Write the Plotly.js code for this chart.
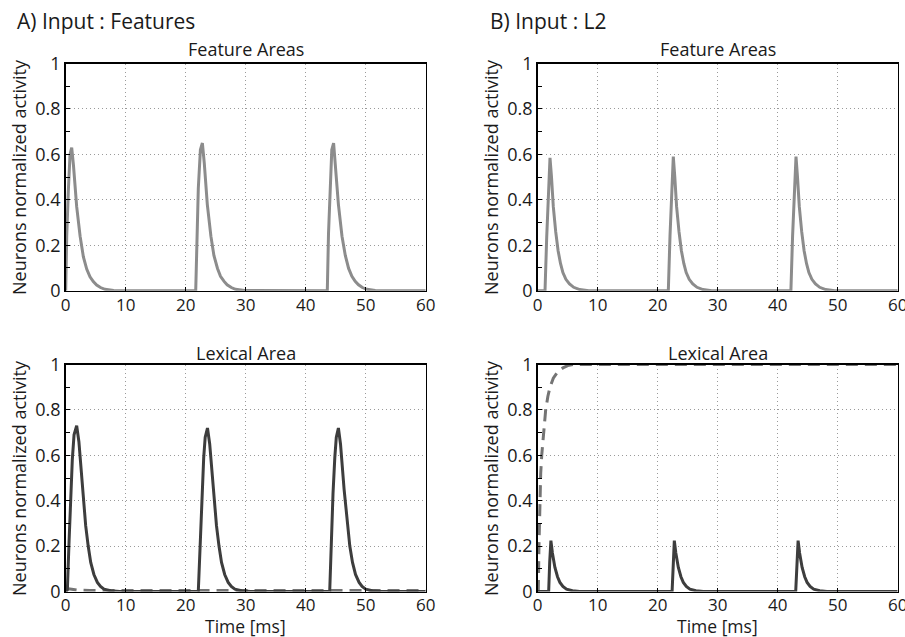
<!DOCTYPE html>
<html>
<head>
<meta charset="utf-8">
<script src="https://cdn.plot.ly/plotly-3.0.1.min.js"></script>
<style>html,body{margin:0;padding:0;background:#fff;}#chart{width:905px;height:637px;}</style>
</head>
<body>
<div id="chart"></div>
<script>
// ---- Data ----
// Panel A, Feature Areas (gray)
const aFeatT = [0,0.17,0.44,0.72,1.0,1.3,1.83,2.4,2.94,3.5,4.05,4.6,5.16,5.8,6.55,8,
  21.67,21.85,22.1,22.45,22.78,23.1,23.6,24.2,24.7,25.3,25.8,26.4,26.9,27.6,28.3,29.8,
  43.6,43.8,44.05,44.35,44.65,44.95,45.45,46.05,46.6,47.15,47.7,48.25,48.8,49.45,50.2,51.6,60];
const aFeatY = [0,0.24,0.44,0.60,0.63,0.55,0.37,0.24,0.15,0.095,0.061,0.04,0.025,0.014,0.006,0.001,
  0,0.25,0.45,0.62,0.65,0.56,0.38,0.24,0.155,0.098,0.063,0.041,0.026,0.014,0.006,0.001,
  0,0.25,0.45,0.62,0.65,0.56,0.38,0.24,0.155,0.098,0.063,0.041,0.026,0.014,0.006,0.001,0];

// Panel A, Lexical Area (dark solid)
const aLexT = [0,0.28,0.56,0.83,1.1,1.39,1.83,2.2,2.78,3.33,3.75,4.17,4.7,5.28,5.8,6.39,7.5,9,
  22.1,22.4,22.7,23.0,23.25,23.63,24.0,24.58,25.13,25.55,25.97,26.5,27.08,27.6,28.2,29.3,30.8,
  44.0,44.25,44.55,44.85,45.1,45.45,45.8,46.4,46.95,47.35,47.8,48.3,48.9,49.4,50.0,51.1,52.6,60];
const aLexY = [0,0.01,0.22,0.42,0.58,0.69,0.73,0.66,0.45,0.29,0.2,0.128,0.075,0.04,0.022,0.01,0.003,0,
  0,0.22,0.43,0.59,0.68,0.72,0.65,0.45,0.29,0.2,0.128,0.075,0.04,0.022,0.01,0.003,0,
  0,0.22,0.43,0.59,0.68,0.72,0.65,0.45,0.29,0.2,0.128,0.075,0.04,0.022,0.01,0.003,0,0];
// Panel A, Lexical Area (gray dashed)
const aLex2T = [0,0.5,1,2,4,60];
const aLex2Y = [0,0.012,0.01,0.006,0.004,0.004];

// Panel B, Feature Areas (gray)
const bFeatT = [0,1.22,1.5,1.78,2.05,2.3,2.6,3.0,3.4,3.8,4.2,4.7,5.3,6.0,7.0,8.5,
  21.77,22.05,22.33,22.6,22.85,23.15,23.55,23.95,24.35,24.75,25.25,25.85,26.55,27.55,29,
  42.2,42.48,42.76,43.05,43.3,43.6,44.0,44.4,44.8,45.2,45.7,46.3,47.0,48.0,49.5,60];
const bFeatY = [0,0,0.235,0.44,0.585,0.5,0.37,0.26,0.176,0.12,0.08,0.05,0.03,0.015,0.005,0,
  0,0.24,0.45,0.59,0.5,0.37,0.26,0.176,0.12,0.08,0.05,0.03,0.015,0.005,0,
  0,0.24,0.45,0.59,0.5,0.37,0.26,0.176,0.12,0.08,0.05,0.03,0.015,0.005,0,0];

// Panel B, Lexical Area (dark solid)
const bLexT = [0,1.83,2.0,2.2,2.45,2.87,3.3,3.7,4.2,4.8,5.8,7,
  22.4,22.57,22.77,23.02,23.44,23.87,24.27,24.77,25.37,26.37,27.6,
  43.0,43.2,43.4,43.65,44.07,44.5,44.9,45.4,46.0,47.0,48.2,60];
const bLexY = [0,0,0.13,0.224,0.17,0.106,0.065,0.04,0.022,0.01,0.003,0,
  0,0.13,0.224,0.17,0.106,0.065,0.04,0.022,0.01,0.003,0,
  0,0.13,0.224,0.17,0.106,0.065,0.04,0.022,0.01,0.003,0,0];
// Panel B, Lexical Area (gray dashed)
const bLex2T = [0,0.1,0.21,0.33,0.5,0.67,1.0,1.33,1.7,2.05,2.6,3.4,4.2,5.0,5.9,60];
const bLex2Y = [0,0,0.2,0.4,0.52,0.6,0.7,0.8,0.86,0.9,0.94,0.97,0.985,0.995,1.0,1.0];

const xTicks = [0,10,20,30,40,50,60];
const yTicks = [0,0.2,0.4,0.6,0.8,1];
const yTickText = ['0','0.2','0.4','0.6','0.8','1'];

// ---- Styles ----
const GRAY = '#8c8c8c', DARK = '#3d3d3d', DASH = '#747474';
const FONT = 'Open Sans, Noto Sans, sans-serif';
const TXT = '#1a1a1a';

function line(x, y, xa, ya, color, dash) {
  return {x: x, y: y, xaxis: xa, yaxis: ya, type: 'scatter', mode: 'lines',
          line: {color: color, width: 3, dash: dash || 'solid'}, hoverinfo: 'skip', showlegend: false};
}
const traces = [
  line(aFeatT, aFeatY, 'x', 'y', GRAY),
  line(bFeatT, bFeatY, 'x2', 'y2', GRAY),
  line(aLex2T, aLex2Y, 'x3', 'y3', DASH, '12px,7px'),
  line(aLexT, aLexY, 'x3', 'y3', DARK),
  line(bLex2T, bLex2Y, 'x4', 'y4', DASH, '12px,7px'),
  line(bLexT, bLexY, 'x4', 'y4', DARK)
];

const W = 905, H = 637;
const xA = [65.7/W, 425.7/W], xB = [537.7/W, 897.7/W];
const yTop = [1-290.7/H, 1-63.5/H], yBot = [1-591.5/H, 1-364.5/H];

const common = {showline: true, mirror: true, linecolor: '#000', linewidth: 1.5,
    ticks: 'inside', ticklen: 4, tickcolor: '#000', tickwidth: 1,
    showgrid: true, gridcolor: '#9a9a9a', griddash: '1px,3px', gridwidth: 1, zeroline: false,
    ticklabeloverflow: 'allow', fixedrange: true};
function xaxis(dom, anchor) {
  return Object.assign({domain: dom, anchor: anchor, range: [0,60], tickmode: 'array', tickvals: xTicks,
    ticklabelstandoff: -2, tickfont: {family: FONT, size: 17, color: TXT}}, common);
}
function yaxis(dom, anchor) {
  return Object.assign({domain: dom, anchor: anchor, range: [0,1], tickmode: 'array', tickvals: yTicks, ticktext: yTickText,
    tickfont: {family: FONT, size: 18, color: TXT},
    minor: {dtick: 0.1, tick0: 0, ticks: 'inside', ticklen: 4, tickcolor: '#000', showgrid: false}}, common);
}

function ann(text, px, py, size, xanchor, angle) {
  return {text: text, x: px/W, y: 1-py/H, xref: 'paper', yref: 'paper', xanchor: xanchor || 'center',
    yanchor: 'middle', showarrow: false, textangle: angle || 0,
    font: {family: FONT, size: size, color: TXT}};
}
const yTitle = 'Neurons normalized activity';
const layout = {
  width: W, height: H, margin: {l:0, r:0, t:0, b:0},
  paper_bgcolor: '#fff', plot_bgcolor: '#fff', showlegend: false,
  xaxis: xaxis(xA, 'y'), yaxis: yaxis(yTop, 'x'),
  xaxis2: xaxis(xB, 'y2'), yaxis2: yaxis(yTop, 'x2'),
  xaxis3: xaxis(xA, 'y3'), yaxis3: yaxis(yBot, 'x3'),
  xaxis4: xaxis(xB, 'y4'), yaxis4: yaxis(yBot, 'x4'),
  annotations: [
    ann('A) Input : Features', 15, 21, 21, 'left'),
    ann('B) Input : L2', 488, 21, 21, 'left'),
    ann('Feature Areas', 245.7, 48.5, 18),
    ann('Feature Areas', 717.7, 48.5, 18),
    ann('Lexical Area', 245.7, 353, 18),
    ann('Lexical Area', 717.7, 353, 18),
    ann('Time [ms]', 245.7, 626, 17.5),
    ann('Time [ms]', 717.7, 626, 17.5),
    ann(yTitle, 19, 177, 18, 'center', -90),
    ann(yTitle, 491, 177, 18, 'center', -90),
    ann(yTitle, 19, 478, 18, 'center', -90),
    ann(yTitle, 491, 478, 18, 'center', -90)
  ]
};
Plotly.newPlot('chart', traces, layout, {displayModeBar: false, staticPlot: true});
</script>
</body>
</html>
